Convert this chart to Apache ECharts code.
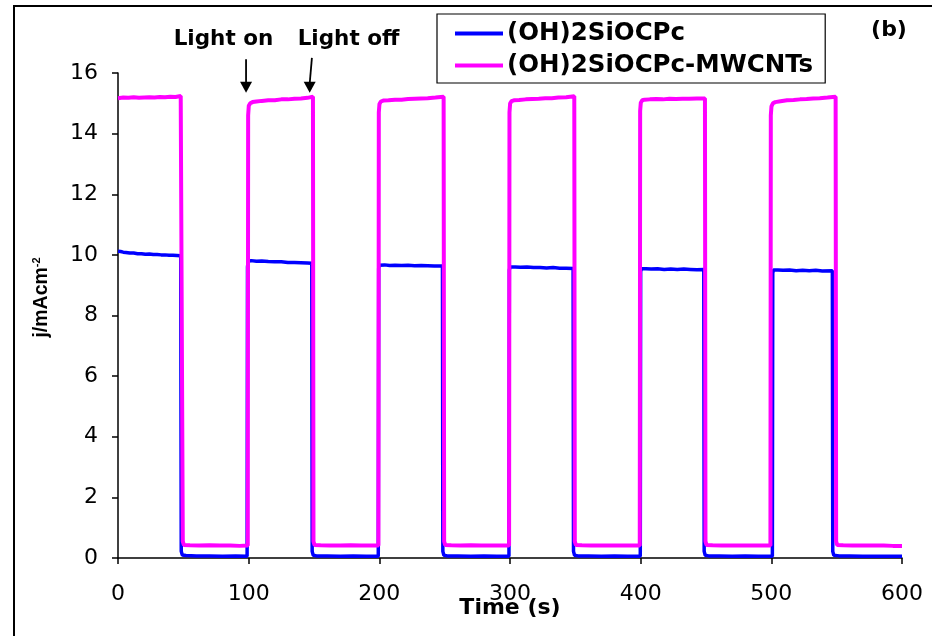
<!DOCTYPE html>
<html>
<head>
<meta charset="utf-8">
<script src="https://cdn.jsdelivr.net/npm/echarts@6/dist/echarts.min.js"></script>
<style>
  html, body { margin: 0; padding: 0; background: #fff; }
  #chart { width: 932px; height: 636px; }
</style>
</head>
<body>
<div id="chart"></div>
<script>
// Photocurrent response under chopped illumination: [time (s), j (mA/cm2)]
const seriesNames = ['(OH)2SiOCPc', '(OH)2SiOCPc-MWCNTs'];

const pcData = [
  [0, 10.12], [2, 10.11], [4, 10.09], [6, 10.08], [9, 10.06], [12, 10.06], [15, 10.04],
  [18, 10.04], [21, 10.02], [24, 10.03], [27, 10.01], [30, 10.01], [33, 10.0], [36, 10.0],
  [39, 9.99], [42, 9.99], [45, 9.98], [48, 9.97],
  [48.4, 0.22], [49.2, 0.1], [52, 0.08], [60, 0.07], [70, 0.07], [80, 0.06], [90, 0.07], [98.8, 0.06],
  [99.1, 9.6], [99.6, 9.8], [102, 9.81], [106, 9.79], [110, 9.8], [115, 9.78], [120, 9.77],
  [125, 9.77], [130, 9.75], [135, 9.75], [140, 9.74], [145, 9.73], [148.3, 9.72],
  [148.6, 0.22], [149.4, 0.09], [152, 0.07], [160, 0.07], [170, 0.06], [180, 0.07], [190, 0.06], [199.2, 0.06],
  [199.5, 9.55], [200, 9.66], [204, 9.67], [208, 9.65], [212, 9.66], [217, 9.65], [222, 9.66],
  [227, 9.64], [232, 9.65], [237, 9.64], [242, 9.63], [248.3, 9.63],
  [248.6, 0.22], [249.4, 0.09], [252, 0.07], [260, 0.07], [270, 0.06], [280, 0.07], [290, 0.06], [299.2, 0.06],
  [299.5, 9.5], [300, 9.6], [304, 9.6], [308, 9.59], [313, 9.6], [318, 9.58], [323, 9.58],
  [328, 9.57], [333, 9.58], [338, 9.56], [343, 9.56], [348.3, 9.55],
  [348.6, 0.22], [349.4, 0.09], [352, 0.07], [360, 0.07], [370, 0.06], [380, 0.07], [390, 0.06], [399.7, 0.06],
  [400, 9.45], [400.5, 9.54], [404, 9.54], [408, 9.53], [413, 9.54], [418, 9.52], [423, 9.53],
  [428, 9.52], [433, 9.53], [438, 9.52], [443, 9.51], [448.3, 9.52],
  [448.6, 0.22], [449.4, 0.09], [452, 0.07], [460, 0.07], [470, 0.06], [480, 0.07], [490, 0.06], [500.8, 0.06],
  [501.1, 9.4], [501.6, 9.5], [505, 9.5], [509, 9.49], [514, 9.5], [519, 9.48], [524, 9.49],
  [529, 9.48], [534, 9.49], [539, 9.47], [546.7, 9.48],
  [547, 0.22], [547.8, 0.09], [552, 0.07], [560, 0.07], [570, 0.06], [580, 0.06], [590, 0.06], [600, 0.06]
];

const mwcntData = [
  [0, 15.17], [4, 15.19], [8, 15.18], [12, 15.2], [16, 15.18], [20, 15.19], [24, 15.2],
  [28, 15.19], [32, 15.21], [36, 15.2], [40, 15.22], [44, 15.21], [48, 15.24], [49.3, 15.23],
  [49.6, 0.55], [50.4, 0.43], [55, 0.42], [62, 0.41], [70, 0.42], [78, 0.41], [86, 0.41], [93, 0.4], [99.3, 0.41],
  [99.6, 14.6], [100.1, 14.92], [101.2, 15.0], [103, 15.04], [106, 15.06], [110, 15.08], [115, 15.1],
  [120, 15.1], [125, 15.13], [130, 15.13], [135, 15.15], [140, 15.16], [145, 15.18], [149.2, 15.22],
  [149.6, 0.55], [150.4, 0.43], [155, 0.42], [162, 0.41], [170, 0.41], [178, 0.42], [186, 0.41], [193, 0.41], [199.3, 0.41],
  [199.6, 14.7], [200.1, 14.98], [201.2, 15.06], [203, 15.09], [207, 15.1], [212, 15.12], [217, 15.12],
  [222, 15.14], [227, 15.15], [232, 15.16], [237, 15.17], [243, 15.19], [249.2, 15.22],
  [249.6, 0.55], [250.4, 0.43], [255, 0.42], [262, 0.41], [270, 0.42], [278, 0.41], [286, 0.41], [293, 0.41], [299.3, 0.41],
  [299.6, 14.7], [300.1, 15.0], [301.2, 15.07], [303, 15.1], [307, 15.11], [312, 15.13], [317, 15.14],
  [322, 15.15], [327, 15.17], [332, 15.17], [337, 15.19], [343, 15.2], [349.2, 15.23],
  [349.6, 0.55], [350.4, 0.43], [355, 0.42], [362, 0.41], [370, 0.41], [378, 0.41], [386, 0.41], [393, 0.41], [399.3, 0.41],
  [399.6, 14.75], [400.1, 15.02], [401.2, 15.1], [403, 15.12], [407, 15.13], [412, 15.14], [417, 15.13],
  [422, 15.15], [427, 15.14], [432, 15.15], [437, 15.15], [443, 15.16], [449.2, 15.16],
  [449.6, 0.55], [450.4, 0.43], [455, 0.42], [462, 0.41], [470, 0.41], [478, 0.41], [486, 0.41], [493, 0.41], [499.3, 0.41],
  [499.6, 14.6], [500.1, 14.9], [501.2, 15.0], [503, 15.04], [507, 15.07], [512, 15.1], [517, 15.11],
  [522, 15.13], [527, 15.14], [532, 15.16], [537, 15.17], [543, 15.19], [549.2, 15.22],
  [549.6, 0.55], [550.4, 0.43], [555, 0.42], [562, 0.41], [570, 0.41], [578, 0.41], [586, 0.41], [593, 0.4], [600, 0.4]
];

// Illumination annotations, in data units
const annotationTexts = ['Light on', 'Light off'];
const annotationTextPos = [[80.7, 17.1], [176.4, 17.1]];
const arrowTops = [[98, 16.45], [148.4, 16.5]];
const arrowTips = [[98, 15.35], [146.7, 15.35]];

const WIDE = "'DejaVu Sans', Verdana, sans-serif";
const ARIAL = "'Liberation Sans', Arial, sans-serif";
const chart = echarts.init(document.getElementById('chart'), null, { renderer: 'canvas' });

const option = {
  backgroundColor: '#fff',
  animation: false,
  grid: { left: 118, right: 30, top: 73, bottom: 78 },
  legend: {
    left: 437, top: 14,
    orient: 'vertical',
    data: seriesNames,
    icon: 'rect',
    itemWidth: 48, itemHeight: 4,
    itemGap: 7,
    padding: [7, 12, 5, 18],
    borderColor: '#000', borderWidth: 1.2,
    textStyle: { fontFamily: WIDE, fontWeight: 'bold', fontSize: 24.5, color: '#000', padding: [0, 0, 0, -1] }
  },
  xAxis: {
    type: 'value', min: 0, max: 600, interval: 100,
    name: 'Time (s)', nameLocation: 'middle', nameGap: 39, nameMoveOverlap: false,
    nameTextStyle: { fontFamily: WIDE, fontWeight: 'bold', fontSize: 22, color: '#000' },
    axisLine: { lineStyle: { color: '#000', width: 1.5 } },
    axisTick: { inside: false, length: 6, lineStyle: { color: '#000', width: 1.5 } },
    axisLabel: { margin: 25, fontFamily: WIDE, fontSize: 22, color: '#000' },
    splitLine: { show: false }
  },
  yAxis: {
    type: 'value', min: 0, max: 16, interval: 2,
    name: '{a|j/mAcm}{s|-2}', nameLocation: 'middle', nameGap: 66, nameRotate: 90, nameMoveOverlap: false,
    nameTextStyle: {
      fontFamily: ARIAL, color: '#000',
      padding: [0, 0, 0, 36],
      rich: {
        a: { fontFamily: ARIAL, fontWeight: 'bold', fontSize: 19.5, color: '#000' },
        s: { fontFamily: ARIAL, fontWeight: 'bold', fontSize: 11, color: '#000', padding: [0, 0, 10, 0] }
      }
    },
    axisLine: { show: true, lineStyle: { color: '#000', width: 1.5 } },
    axisTick: { show: true, inside: false, length: 6, lineStyle: { color: '#000', width: 1.5 } },
    axisLabel: { margin: 20, fontFamily: WIDE, fontSize: 22, color: '#000' },
    splitLine: { show: false }
  },
  series: [
    {
      name: seriesNames[0], type: 'line', data: pcData, symbol: 'none',
      color: '#0000FF', lineStyle: { color: '#0000FF', width: 3.5 }, z: 2
    },
    {
      name: seriesNames[1], type: 'line', data: mwcntData, symbol: 'none',
      color: '#FF00FF', lineStyle: { color: '#FF00FF', width: 4 }, z: 3
    }
  ]
};
chart.setOption(option);

// Figure frame, panel tag and illumination arrows placed through the grid's coordinate system
const toPx = p => chart.convertToPixel({ gridIndex: 0 }, p);
const graphics = [
  { type: 'rect', shape: { x: 14, y: 6, width: 940, height: 660 }, style: { fill: 'none', stroke: '#000', lineWidth: 2 }, silent: true },
  { type: 'text', x: 889, y: 30, style: { text: '(b)', fontFamily: WIDE, fontWeight: 'bold', fontSize: 22, fill: '#000', align: 'center', verticalAlign: 'middle' } }
];
annotationTexts.forEach((t, i) => {
  const p = toPx(annotationTextPos[i]);
  graphics.push({ type: 'text', x: p[0], y: p[1], style: { text: t, fontFamily: WIDE, fontWeight: 'bold', fontSize: 21.5, fill: '#000', align: 'center', verticalAlign: 'middle' } });
  const a = toPx(arrowTops[i]);
  const b = toPx(arrowTips[i]);
  graphics.push({ type: 'line', shape: { x1: a[0], y1: a[1], x2: b[0], y2: b[1] - 9 }, style: { stroke: '#000', lineWidth: 1.8 } });
  graphics.push({ type: 'polygon', shape: { points: [[b[0] - 6, b[1] - 11], [b[0] + 6, b[1] - 11], [b[0], b[1]]] }, style: { fill: '#000' } });
});
chart.setOption({ graphic: graphics });
</script>
</body>
</html>
